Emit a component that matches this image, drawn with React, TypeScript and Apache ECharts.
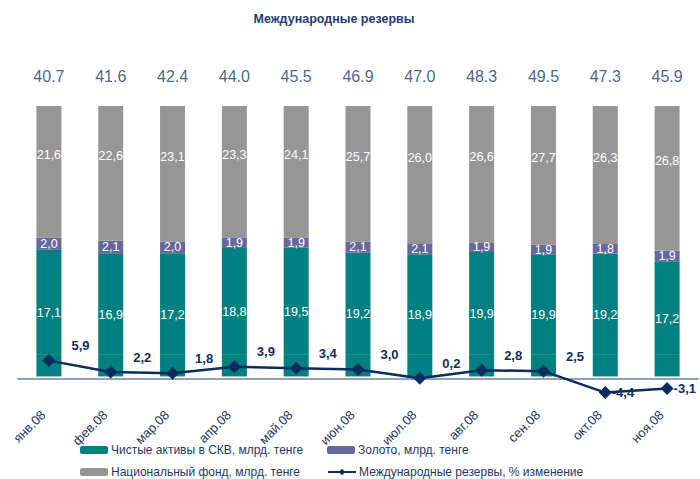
import React, { useEffect, useRef } from "react";
import * as echarts from "echarts";

const MONTHS = ["янв.08", "фев.08", "мар.08", "апр.08", "май.08", "июн.08", "июл.08", "авг.08", "сен.08", "окт.08", "ноя.08"];
const NET_FX = [17.1, 16.9, 17.2, 18.8, 19.5, 19.2, 18.9, 19.9, 19.9, 19.2, 17.2];
const GOLD = [2.0, 2.1, 2.0, 1.9, 1.9, 2.1, 2.1, 1.9, 1.9, 1.8, 1.9];
const NAT_FUND = [21.6, 22.6, 23.1, 23.3, 24.1, 25.7, 26.0, 26.6, 27.7, 26.3, 26.8];
const TOTALS = [40.7, 41.6, 42.4, 44.0, 45.5, 46.9, 47.0, 48.3, 49.5, 47.3, 45.9];
const RESERVES_CHANGE = [5.9, 2.2, 1.8, 3.9, 3.4, 3.0, 0.2, 2.8, 2.5, -4.4, -3.1];
// Excel draws the 100%-stacked bars from the category-axis crossing (-9 %)
const AXIS_CROSS = -9;

const NAMES = {
  fx: "Чистые активы в СКВ, млрд. тенге",
  gold: "Золото, млрд. тенге",
  fund: "Национальный фонд, млрд. тенге",
  line: "Международные резервы, % изменение",
};

const C_TEAL = "#008080";
const C_PURPLE = "#67679b";
const C_GRAY = "#969696";
const C_NAVY = "#0c2b5e";
const C_TEXT = "#1f3864";
const FONT = "Liberation Sans, Arial, sans-serif";

const fmt = (v: number) => v.toFixed(1).replace(".", ",");

export default function App() {
  const ref = useRef<HTMLDivElement>(null);
  useEffect(() => {
    if (!ref.current) return;
    const chart = echarts.init(ref.current, null, { renderer: "svg" });
    const sums = NET_FX.map((v, i) => v + GOLD[i] + NAT_FUND[i]);
    const pct = (arr: number[]) => arr.map((v, i) => (v / sums[i]) * 100);
    const fxPct = pct(NET_FX);
    const goldPct = pct(GOLD);
    const fundPct = pct(NAT_FUND);
    const topPct = fxPct.map((v, i) => v + goldPct[i] + fundPct[i]);

    const inLabel = {
      show: true,
      position: "inside",
      color: "#ffffff",
      fontSize: 12.5,
      fontFamily: FONT,
    };

    const legendBase = {
      itemWidth: 28,
      itemHeight: 8,
      itemGap: 4,
      padding: 0,
      selectedMode: false,
      textStyle: { fontSize: 12, color: C_TEXT, fontFamily: FONT, padding: [0, 0, 0, -2] },
    };

    chart.setOption({
      animation: false,
      textStyle: { fontFamily: FONT },
      graphic: [
        {
          type: "text",
          x: 334,
          y: 19,
          style: {
            text: "Международные резервы",
            textAlign: "center",
            textVerticalAlign: "middle",
            font: "bold 12.5px Liberation Sans, Arial, sans-serif",
            fill: "#1f3c6e",
          },
        },
      ],
      legend: [
        { ...legendBase, data: [NAMES.fx], left: 80, top: 444 },
        { ...legendBase, data: [NAMES.gold], left: 327, top: 444 },
        { ...legendBase, data: [NAMES.fund], left: 80, top: 466 },
        { ...legendBase, data: [NAMES.line], left: 327, top: 466 },
      ],
      grid: { left: 18, right: 2, top: 106, bottom: 79 },
      xAxis: {
        type: "category",
        data: MONTHS,
        axisLine: { onZero: true, onZeroAxisIndex: 1, lineStyle: { color: "#8ea2bb", width: 2 } },
        axisTick: { show: false },
        axisLabel: {
          rotate: 45,
          fontSize: 13,
          color: C_TEXT,
          fontFamily: FONT,
          margin: 7,
          padding: [0, 8, 0, 0],
        },
      },
      yAxis: [
        { type: "value", min: -18.5, max: 100, show: false, splitLine: { show: false } },
        { type: "value", min: -6.8, max: 88, show: false, splitLine: { show: false } },
      ],
      series: [
        {
          name: "_cross",
          type: "bar",
          stack: "reserves",
          barWidth: 25,
          data: NET_FX.map(() => AXIS_CROSS),
          itemStyle: { color: C_TEAL },
          silent: true,
          label: { show: false },
        },
        {
          name: NAMES.fx,
          type: "bar",
          stack: "reserves",
          barWidth: 25,
          data: fxPct,
          itemStyle: { color: C_TEAL },
          label: { ...inLabel, offset: [0, 11], formatter: (p: any) => fmt(NET_FX[p.dataIndex]) },
        },
        {
          name: NAMES.gold,
          type: "bar",
          stack: "reserves",
          barWidth: 25,
          data: goldPct,
          itemStyle: { color: C_PURPLE },
          label: { ...inLabel, formatter: (p: any) => fmt(GOLD[p.dataIndex]) },
        },
        {
          name: NAMES.fund,
          type: "bar",
          stack: "reserves",
          barWidth: 25,
          data: fundPct,
          itemStyle: { color: C_GRAY },
          label: { ...inLabel, offset: [0, -17], formatter: (p: any) => fmt(NAT_FUND[p.dataIndex]) },
        },
        {
          name: "_totals",
          type: "scatter",
          yAxisIndex: 0,
          symbolSize: 0,
          data: topPct,
          silent: true,
          label: {
            show: true,
            position: "top",
            distance: 22,
            fontSize: 16,
            color: "#173a6a",
            fontFamily: FONT,
            formatter: (p: any) => TOTALS[p.dataIndex].toFixed(1),
          },
        },
        {
          name: NAMES.line,
          type: "line",
          yAxisIndex: 1,
          data: RESERVES_CHANGE.map((v) => ({
            value: v,
            label:
              v >= 0
                ? { position: "right", distance: 16, offset: [0, -15] }
                : { position: "right", distance: 0, offset: [0, 0] },
          })),
          symbol: "diamond",
          symbolSize: 13,
          itemStyle: { color: C_NAVY },
          lineStyle: { color: C_NAVY, width: 2.5 },
          z: 5,
          label: {
            show: true,
            fontSize: 13,
            fontWeight: "bold",
            color: "#152c5b",
            fontFamily: FONT,
            formatter: (p: any) => fmt(p.value),
          },
        },
      ],
    });
    return () => chart.dispose();
  }, []);
  return (
    <div
      ref={ref}
      style={{ position: "fixed", left: 0, top: 0, width: 700, height: 479, background: "#ffffff" }}
    />
  );
}
